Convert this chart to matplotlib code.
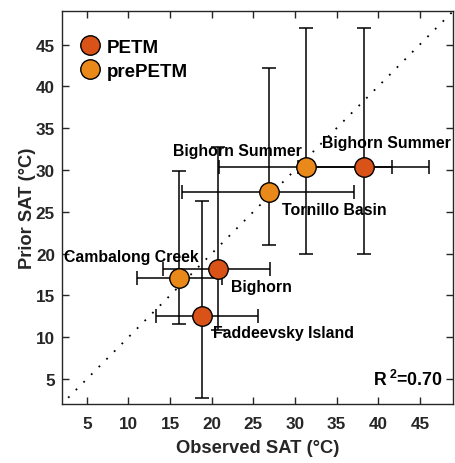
import matplotlib
matplotlib.use("Agg")
import matplotlib.pyplot as plt
import numpy as np

plt.rcParams['font.family'] = ['Liberation Sans', 'DejaVu Sans']
plt.rcParams['font.weight'] = 'bold'
plt.rcParams['mathtext.fontset'] = 'custom'
plt.rcParams['mathtext.rm'] = 'Liberation Sans:bold'
plt.rcParams['mathtext.bf'] = 'Liberation Sans:bold'
plt.rcParams['mathtext.it'] = 'Liberation Sans:bold'

# PETM points
petm_names = ["Bighorn Summer", "Bighorn", "Faddeevsky Island"]
petm_obs = [38.25, 20.7, 18.8]
petm_obs_lo = [30.4, 14.2, 13.3]
petm_obs_hi = [46.1, 27.05, 25.6]
petm_prior = [30.3, 18.2, 12.55]
petm_prior_lo = [20.0, 10.9, 2.7]
petm_prior_hi = [47.0, 32.8, 26.3]

# prePETM points
pre_names = ["Bighorn Summer", "Tornillo Basin", "Cambalong Creek"]
pre_obs = [31.3, 26.85, 16.1]
pre_obs_lo = [20.9, 16.4, 11.0]
pre_obs_hi = [41.7, 37.1, 21.25]
pre_prior = [30.3, 27.4, 17.1]
pre_prior_lo = [20.0, 21.0, 11.6]
pre_prior_hi = [47.0, 42.2, 29.9]

ticks = [5, 10, 15, 20, 25, 30, 35, 40, 45]
r2_text = "R$^{\\;2}$=0.70"

c_petm = '#D95319'
c_pre = '#E8891A'
tc = '#262626'

fig = plt.figure(figsize=(4.55, 4.64), dpi=100)
ax = fig.add_axes([0.136, 0.127, 0.86, 0.847])

ax.plot([0, 50], [0, 50], linestyle=(0, (1, 5)), color='black', lw=1.3, zorder=1)

def draw(obs, olo, ohi, pr, plo, phi, color, label):
    obs = np.array(obs); pr = np.array(pr)
    xerr = [obs - np.array(olo), np.array(ohi) - obs]
    yerr = [pr - np.array(plo), np.array(phi) - pr]
    ax.errorbar(obs, pr, xerr=xerr, yerr=yerr, fmt='none', ecolor='black',
                elinewidth=1.1, capsize=5, capthick=1.1, zorder=2)
    ax.plot(obs, pr, 'o', markersize=14, markerfacecolor=color,
            markeredgecolor='black', markeredgewidth=1.0, linestyle='none',
            label=label, zorder=3)

draw(petm_obs, petm_obs_lo, petm_obs_hi, petm_prior, petm_prior_lo, petm_prior_hi, c_petm, 'PETM')
draw(pre_obs, pre_obs_lo, pre_obs_hi, pre_prior, pre_prior_lo, pre_prior_hi, c_pre, 'prePETM')

fs = 11.4
ax.text(33.3, 33.27, petm_names[0], fontsize=fs, fontweight='bold', ha='left', va='center')
ax.text(22.3, 16.1, petm_names[1], fontsize=fs, fontweight='bold', ha='left', va='center')
ax.text(20.2, 10.56, petm_names[2], fontsize=fs, fontweight='bold', ha='left', va='center')
ax.text(23.1, 32.3, pre_names[0], fontsize=fs, fontweight='bold', ha='center', va='center')
ax.text(28.4, 25.3, pre_names[1], fontsize=fs, fontweight='bold', ha='left', va='center')
ax.text(10.3, 19.7, pre_names[2], fontsize=fs, fontweight='bold', ha='center', va='center')

ax.text(47.8, 5.0, r2_text, fontsize=12.8, fontweight='bold', ha='right', va='center')

ax.set_xlim(2, 49)
ax.set_ylim(2, 49)
ax.set_xticks(ticks)
ax.set_yticks(ticks)
ax.tick_params(direction='in', top=True, right=True, length=4.8, width=1,
               labelsize=12.3, colors=tc, labelcolor=tc)
ax.tick_params(axis='x', pad=8.5)
ax.tick_params(axis='y', pad=5)
for lab in ax.get_xticklabels() + ax.get_yticklabels():
    lab.set_fontweight('bold')
for s in ax.spines.values():
    s.set_color(tc)
    s.set_linewidth(1.0)

ax.set_xlabel('Observed SAT (\u00b0C)', fontsize=13.2, fontweight='bold', color=tc, labelpad=6)
ax.set_ylabel('Prior SAT (\u00b0C)', fontsize=13.2, fontweight='bold', color=tc, labelpad=0)

leg = ax.legend(loc='upper left', bbox_to_anchor=(0.015, 0.959), frameon=False,
                handletextpad=0.3, borderaxespad=0.2, labelspacing=0.38, handlelength=1.2,
                prop={'weight': 'bold', 'size': 13.5})

fig.savefig('out.png', dpi=100)
